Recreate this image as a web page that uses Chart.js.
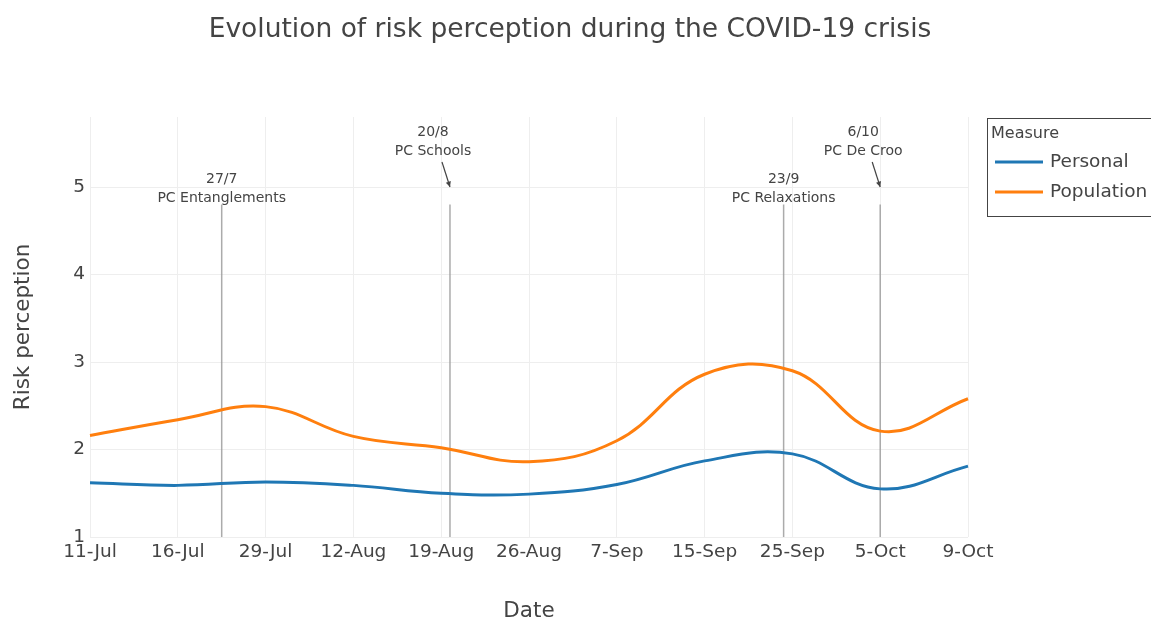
<!DOCTYPE html>
<html>
<head>
<meta charset="utf-8">
<script src="https://cdn.jsdelivr.net/npm/chart.js@4"></script>
<style>
  body { margin: 0; background: #fff; }
  canvas { display: block; }
</style>
</head>
<body>
<canvas id="riskChart" width="1151" height="622"></canvas>
<script>
var dates = ["11-Jul", "16-Jul", "29-Jul", "12-Aug", "19-Aug", "26-Aug", "7-Sep", "15-Sep", "25-Sep", "5-Oct", "9-Oct"];
var personal = [1.62, 1.59, 1.63, 1.59, 1.50, 1.49, 1.60, 1.87, 1.95, 1.55, 1.81];
var population = [2.16, 2.34, 2.49, 2.15, 2.02, 1.86, 2.10, 2.86, 2.90, 2.21, 2.58];

// press conferences, placed on the category axis (index units)
var eventDates = ["27/7", "20/8", "23/9", "6/10"];
var eventNames = ["PC Entanglements", "PC Schools", "PC Relaxations", "PC De Croo"];
var eventPos = [1.5, 4.1, 7.9, 9.0];
var eventArrow = [false, true, false, true];
var eventTop = 4.8;

var titleText = "Evolution of risk perception during the COVID-19 crisis";
var FONT = "'DejaVu Sans', Verdana, sans-serif";

var titlePlugin = {
  id: "pageTitle",
  afterDraw: function (chart) {
    var c = chart.ctx;
    c.save();
    c.font = "26.5px " + FONT;
    c.fillStyle = "#444";
    c.textAlign = "center";
    c.textBaseline = "middle";
    c.fillText(titleText, 570, 30);
    c.restore();
  }
};

var eventsPlugin = {
  id: "events",
  beforeDatasetsDraw: function (chart) {
    var c = chart.ctx, x = chart.scales.x, y = chart.scales.y;
    c.save();
    c.strokeStyle = "rgba(150,150,150,0.8)";
    c.lineWidth = 1.5;
    for (var i = 0; i < eventPos.length; i++) {
      var px = x.getPixelForValue(eventPos[i]);
      c.beginPath();
      c.moveTo(px, y.getPixelForValue(eventTop));
      c.lineTo(px, y.getPixelForValue(1));
      c.stroke();
    }
    c.restore();
  },
  afterDraw: function (chart) {
    var c = chart.ctx, x = chart.scales.x, y = chart.scales.y;
    c.save();
    c.font = "14px " + FONT;
    c.fillStyle = "#444";
    c.textAlign = "center";
    c.textBaseline = "middle";
    for (var i = 0; i < eventPos.length; i++) {
      var px = x.getPixelForValue(eventPos[i]);
      var py5 = y.getPixelForValue(5);
      if (eventArrow[i]) {
        var tx = px - 17;
        c.fillText(eventDates[i], tx, py5 - 55);
        c.fillText(eventNames[i], tx, py5 - 36);
        // arrow
        var sx = px - 8, sy = py5 - 25;
        c.strokeStyle = "#444";
        c.lineWidth = 1.2;
        c.beginPath();
        c.moveTo(sx, sy);
        c.lineTo(px, py5);
        c.stroke();
        var ang = Math.atan2(py5 - sy, px - sx);
        c.beginPath();
        c.moveTo(px, py5);
        c.lineTo(px - 6 * Math.cos(ang - 0.45), py5 - 6 * Math.sin(ang - 0.45));
        c.lineTo(px - 6 * Math.cos(ang + 0.45), py5 - 6 * Math.sin(ang + 0.45));
        c.closePath();
        c.fillStyle = "#444";
        c.fill();
      } else {
        c.fillText(eventDates[i], px, py5 - 8);
        c.fillText(eventNames[i], px, py5 + 11);
      }
    }
    c.restore();
  }
};

var legendPlugin = {
  id: "boxLegend",
  afterDraw: function (chart) {
    var c = chart.ctx;
    var left = 987, top = 118;
    c.save();
    c.strokeStyle = "#444";
    c.lineWidth = 1;
    c.strokeRect(left + 0.5, top + 0.5, 200, 98);
    c.fillStyle = "#444";
    c.textBaseline = "middle";
    c.textAlign = "left";
    c.font = "16px " + FONT;
    c.fillText("Measure", left + 4, top + 16);
    c.font = "18.5px " + FONT;
    chart.data.datasets.forEach(function (ds, i) {
      var ly = top + 44 + i * 30;
      c.strokeStyle = ds.borderColor;
      c.lineWidth = 3;
      c.beginPath();
      c.moveTo(left + 8, ly);
      c.lineTo(left + 56, ly);
      c.stroke();
      c.fillStyle = "#444";
      c.fillText(ds.label, left + 63, ly);
    });
    c.restore();
  }
};

var ctx = document.getElementById("riskChart").getContext("2d");
var riskChart = new Chart(ctx, {
  type: "line",
  data: {
    labels: dates,
    datasets: [
      {
        label: "Personal",
        data: personal,
        borderColor: "#1f77b4",
        borderWidth: 3,
        pointRadius: 0,
        tension: 0.4,
        fill: false,
      },
      {
        label: "Population",
        data: population,
        borderColor: "#ff7f0e",
        borderWidth: 3,
        pointRadius: 0,
        tension: 0.4,
        fill: false,
      },
    ],
  },
  options: {
    responsive: false,
    animation: false,
    layout: {
      padding: { left: 0, right: 183, top: 117, bottom: 0 },
    },
    plugins: {
      legend: { display: false },
      tooltip: { enabled: false },
      title: { display: false },
    },
    scales: {
      x: {
        grid: { color: "#eeeeee", drawTicks: false, lineWidth: 1 },
        border: { display: false },
        ticks: {
          color: "#444",
          font: { family: FONT, size: 18.5 },
          padding: 4,
          maxRotation: 0,
          autoSkip: false,
        },
        title: {
          display: true,
          text: "Date",
          color: "#444",
          font: { family: FONT, size: 21.5 },
          padding: { top: 0, bottom: -2 },
        },
        afterFit: function (s) { s.height = 85; },
      },
      y: {
        min: 1,
        max: 5.8,
        grid: { color: "#eeeeee", drawTicks: false, lineWidth: 1 },
        border: { display: false },
        ticks: {
          stepSize: 1,
          color: "#444",
          font: { family: FONT, size: 18.5 },
          padding: 5,
        },
        afterBuildTicks: function (s) {
          s.ticks = s.ticks.filter(function (t) { return Number.isInteger(t.value); });
        },
        title: {
          display: true,
          text: "Risk perception",
          color: "#444",
          font: { family: FONT, size: 21.5 },
          padding: { top: 11, bottom: 0 },
        },
        afterFit: function (s) { s.width = 90; },
      },
    },
  },
  plugins: [eventsPlugin, legendPlugin, titlePlugin],
});
</script>
</body>
</html>
